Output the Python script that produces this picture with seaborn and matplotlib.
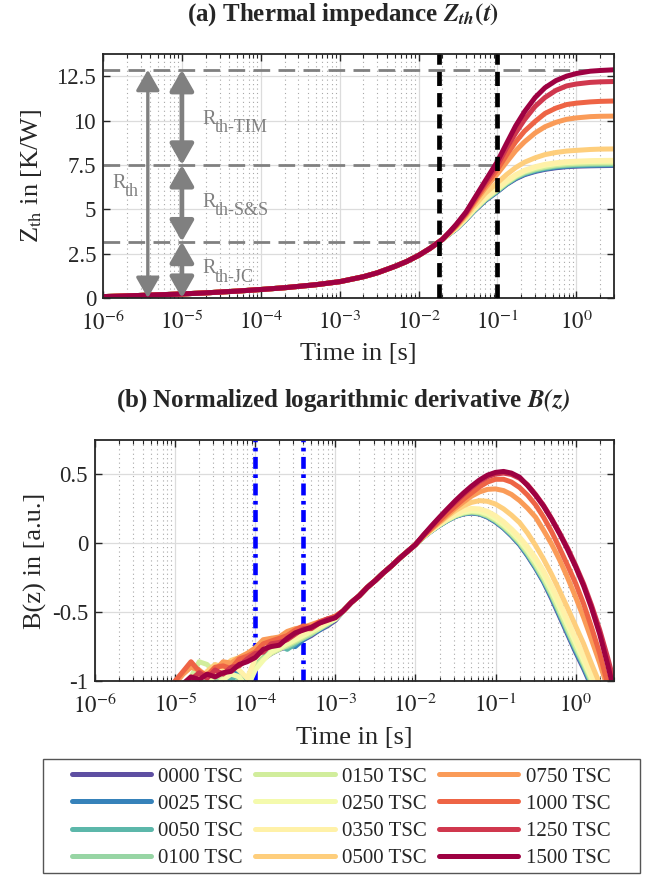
import matplotlib
matplotlib.use("Agg")
import matplotlib.pyplot as plt
import matplotlib.ticker as mticker
from matplotlib.lines import Line2D
from matplotlib.patches import Rectangle
import seaborn as sns
import pandas as pd
import numpy as np

nan = np.nan

# ---- series names / colours ----
labels = ["0000 TSC", "0025 TSC", "0050 TSC", "0100 TSC", "0150 TSC", "0250 TSC",
          "0350 TSC", "0500 TSC", "0750 TSC", "1000 TSC", "1250 TSC", "1500 TSC"]

# ---- (a) Zth(t): shared early part, then one list per series ----
zth_t_early = [1e-6, 2e-6, 5e-6, 1e-5, 2e-5, 5e-5, 1e-4, 2e-4, 5e-4, 1e-3,
               2e-3, 3e-3, 5e-3, 7e-3, 1e-2, 1.4e-2, 2e-2]
zth_early = [0.08, 0.12, 0.18, 0.23, 0.29, 0.39, 0.48, 0.58, 0.75, 0.92,
             1.2, 1.42, 1.78, 2.05, 2.4, 2.8, 3.3]
zth_t_late = [0.025, 0.03, 0.04, 0.05, 0.07, 0.1, 0.13, 0.17, 0.22, 0.3,
              0.4, 0.55, 0.75, 1.0, 1.5, 2.0, 3.0]
zth_0000 = [3.63, 3.89, 4.43, 4.88, 5.49, 6.0, 6.4, 6.72, 6.95, 7.13, 7.25, 7.34, 7.4, 7.43, 7.45, 7.46, 7.47]
zth_0025 = [3.64, 3.9, 4.44, 4.9, 5.51, 6.02, 6.42, 6.75, 6.98, 7.16, 7.28, 7.37, 7.43, 7.46, 7.48, 7.49, 7.5]
zth_0050 = [3.64, 3.91, 4.45, 4.91, 5.53, 6.04, 6.44, 6.78, 7.01, 7.19, 7.31, 7.41, 7.46, 7.49, 7.51, 7.52, 7.53]
zth_0100 = [3.65, 3.92, 4.46, 4.93, 5.55, 6.07, 6.47, 6.81, 7.05, 7.23, 7.35, 7.45, 7.5, 7.53, 7.56, 7.57, 7.58]
zth_0150 = [3.65, 3.93, 4.48, 4.95, 5.58, 6.1, 6.5, 6.85, 7.1, 7.28, 7.4, 7.5, 7.56, 7.59, 7.61, 7.62, 7.63]
zth_0250 = [3.66, 3.94, 4.5, 4.98, 5.62, 6.15, 6.55, 6.9, 7.15, 7.35, 7.48, 7.57, 7.63, 7.66, 7.69, 7.7, 7.71]
zth_0350 = [3.66, 3.95, 4.52, 5.0, 5.65, 6.2, 6.6, 6.95, 7.2, 7.4, 7.53, 7.62, 7.68, 7.71, 7.74, 7.75, 7.76]
zth_0500 = [3.68, 4.0, 4.6, 5.15, 5.9, 6.5, 6.95, 7.35, 7.65, 7.9, 8.08, 8.2, 8.28, 8.32, 8.37, 8.39, 8.4]
zth_0750 = [3.7, 4.05, 4.7, 5.3, 6.2, 7.0, 7.65, 8.3, 8.8, 9.3, 9.65, 9.9, 10.07, 10.15, 10.22, 10.24, 10.25]
zth_1000 = [3.72, 4.08, 4.75, 5.4, 6.35, 7.25, 8.05, 8.8, 9.4, 9.95, 10.4, 10.7, 10.9, 10.98, 11.05, 11.08, 11.1]
zth_1250 = [3.74, 4.12, 4.8, 5.48, 6.5, 7.5, 8.45, 9.3, 10.05, 10.8, 11.3, 11.7, 11.95, 12.06, 12.15, 12.18, 12.2]
zth_1500 = [3.75, 4.15, 4.85, 5.55, 6.6, 7.7, 8.7, 9.7, 10.5, 11.3, 11.85, 12.25, 12.5, 12.65, 12.78, 12.82, 12.86]
zth_late = [zth_0000, zth_0025, zth_0050, zth_0100, zth_0150, zth_0250,
            zth_0350, zth_0500, zth_0750, zth_1000, zth_1250, zth_1500]

# ---- (b) B(z): noisy start per series, shared middle, tail per series ----
b_t_noise = [1.0e-5, 1.26e-5, 1.58e-5, 2.0e-5, 2.51e-5, 3.16e-5, 3.98e-5, 5.01e-5, 6.31e-5, 7.94e-5,
             1.0e-4, 1.26e-4, 1.58e-4, 2.0e-4, 2.51e-4, 3.16e-4, 3.98e-4, 5.01e-4, 6.31e-4, 7.94e-4, 1.0e-3]
bn_0000 = [nan, nan, nan, -1.03, -1.0, -0.98, -1.0, -0.97, -0.96, -1.02, -0.9, -0.84, -0.8, -0.77, -0.75, -0.73, -0.7, -0.67, -0.63, -0.6, -0.56]
bn_0025 = [nan, nan, -1.04, -1.01, -0.99, -0.95, -0.98, -0.96, -0.93, -1.0, -0.88, -0.83, -0.79, -0.76, -0.74, -0.75, -0.7, -0.66, -0.63, -0.59, -0.55]
bn_0050 = [nan, nan, -1.05, -1.0, -0.98, -1.01, -0.97, -0.99, -0.95, -1.03, -0.89, -0.82, -0.78, -0.74, -0.77, -0.73, -0.68, -0.65, -0.61, -0.58, -0.55]
bn_0100 = [nan, -1.06, -1.02, -0.99, -1.01, -0.97, -1.0, -1.04, -0.99, -1.04, -0.9, -0.83, -0.79, -0.76, -0.75, -0.72, -0.69, -0.66, -0.62, -0.59, -0.55]
bn_0150 = [nan, -1.04, -0.97, -0.86, -0.88, -0.94, -0.99, -1.04, -1.06, -1.03, -0.9, -0.84, -0.8, -0.77, -0.74, -0.71, -0.68, -0.65, -0.62, -0.58, -0.55]
bn_0250 = [nan, -1.05, -1.02, -0.98, -0.96, -1.03, -0.99, -0.95, -0.97, -1.05, -0.92, -0.85, -0.79, -0.76, -0.73, -0.7, -0.67, -0.64, -0.61, -0.58, -0.55]
bn_0350 = [nan, nan, -1.04, -0.99, -0.95, -0.97, -0.92, -0.89, -0.92, -0.98, -0.84, -0.78, -0.75, -0.72, -0.69, -0.68, -0.65, -0.62, -0.6, -0.57, -0.54]
bn_0500 = [nan, -1.03, -0.97, -0.99, -0.93, -0.88, -0.9, -0.85, -0.83, -0.8, -0.77, -0.72, -0.69, -0.7, -0.66, -0.64, -0.63, -0.6, -0.58, -0.56, -0.53]
bn_0750 = [-1.02, -0.95, -0.9, -0.92, -0.97, -0.92, -0.86, -0.87, -0.83, -0.8, -0.76, -0.7, -0.69, -0.68, -0.64, -0.62, -0.61, -0.59, -0.57, -0.55, -0.53]
bn_1000 = [-1.0, -0.93, -0.86, -0.93, -0.96, -0.9, -0.89, -0.91, -0.84, -0.82, -0.79, -0.73, -0.71, -0.69, -0.67, -0.63, -0.6, -0.61, -0.57, -0.55, -0.53]
bn_1250 = [nan, nan, -0.99, -0.94, -0.98, -0.92, -0.95, -0.9, -0.89, -0.84, -0.8, -0.79, -0.73, -0.72, -0.7, -0.66, -0.62, -0.62, -0.58, -0.55, -0.54]
bn_1500 = [nan, -1.02, -0.97, -0.99, -0.95, -0.97, -0.94, -0.93, -0.88, -0.86, -0.83, -0.77, -0.75, -0.74, -0.69, -0.65, -0.63, -0.61, -0.58, -0.56, -0.54]
b_noise = [bn_0000, bn_0025, bn_0050, bn_0100, bn_0150, bn_0250,
           bn_0350, bn_0500, bn_0750, bn_1000, bn_1250, bn_1500]

b_t_mid = [1.26e-3, 1.58e-3, 2.0e-3, 2.51e-3, 3.16e-3, 3.98e-3, 5.01e-3, 6.31e-3, 7.94e-3]
b_mid = [-0.49, -0.43, -0.38, -0.32, -0.27, -0.215, -0.165, -0.11, -0.06]

b_t_tail = [1.0e-2, 1.26e-2, 1.58e-2, 2.0e-2, 2.51e-2, 3.16e-2, 3.98e-2, 5.01e-2, 6.31e-2, 7.94e-2,
            0.1, 0.126, 0.158, 0.2, 0.251, 0.316, 0.398, 0.501, 0.631, 0.794,
            1.0, 1.26, 1.58, 2.0, 2.51, 3.16]
bt_0000 = [-0.01, 0.045, 0.09, 0.13, 0.165, 0.195, 0.213, 0.22, 0.213, 0.19, 0.155, 0.11, 0.055, -0.01, -0.09, -0.18, -0.28, -0.4, -0.53, -0.66, -0.79, -0.91, -1.04, -1.17, -1.3, -1.43]
bt_0025 = [-0.01, 0.045, 0.09, 0.131, 0.166, 0.196, 0.215, 0.222, 0.215, 0.193, 0.158, 0.113, 0.058, -0.006, -0.085, -0.175, -0.275, -0.39, -0.52, -0.65, -0.78, -0.9, -1.03, -1.16, -1.29, -1.42]
bt_0050 = [-0.01, 0.046, 0.091, 0.132, 0.167, 0.197, 0.216, 0.224, 0.217, 0.195, 0.161, 0.116, 0.062, -0.002, -0.08, -0.17, -0.268, -0.383, -0.512, -0.642, -0.77, -0.89, -1.02, -1.15, -1.28, -1.41]
bt_0100 = [-0.01, 0.046, 0.091, 0.133, 0.168, 0.199, 0.218, 0.227, 0.22, 0.199, 0.165, 0.12, 0.067, 0.004, -0.073, -0.162, -0.26, -0.374, -0.502, -0.632, -0.76, -0.88, -1.01, -1.14, -1.27, -1.4]
bt_0150 = [-0.01, 0.047, 0.092, 0.134, 0.17, 0.201, 0.221, 0.23, 0.224, 0.203, 0.17, 0.126, 0.073, 0.01, -0.066, -0.154, -0.252, -0.365, -0.492, -0.62, -0.748, -0.87, -0.998, -1.13, -1.26, -1.39]
bt_0250 = [-0.01, 0.048, 0.093, 0.136, 0.173, 0.205, 0.227, 0.237, 0.232, 0.213, 0.18, 0.137, 0.085, 0.023, -0.05, -0.135, -0.232, -0.343, -0.467, -0.595, -0.723, -0.852, -0.98, -1.11, -1.24, -1.37]
bt_0350 = [-0.01, 0.05, 0.095, 0.14, 0.18, 0.213, 0.24, 0.253, 0.25, 0.232, 0.2, 0.157, 0.105, 0.045, -0.025, -0.105, -0.2, -0.31, -0.43, -0.56, -0.69, -0.82, -0.95, -1.08, -1.21, -1.34]
bt_0500 = [-0.01, 0.05, 0.1, 0.15, 0.195, 0.238, 0.272, 0.297, 0.31, 0.305, 0.285, 0.25, 0.205, 0.15, 0.075, -0.015, -0.115, -0.225, -0.345, -0.47, -0.6, -0.73, -0.875, -1.02, -1.17, -1.32]
bt_0750 = [-0.01, 0.05, 0.103, 0.155, 0.205, 0.255, 0.3, 0.342, 0.373, 0.392, 0.395, 0.383, 0.355, 0.31, 0.255, 0.19, 0.095, -0.005, -0.12, -0.25, -0.39, -0.54, -0.7, -0.87, -1.05, -1.25]
bt_1000 = [-0.01, 0.055, 0.11, 0.165, 0.22, 0.27, 0.32, 0.365, 0.41, 0.445, 0.465, 0.465, 0.445, 0.405, 0.35, 0.28, 0.19, 0.085, -0.035, -0.16, -0.29, -0.44, -0.61, -0.8, -1.02, -1.25]
bt_1250 = [-0.01, 0.058, 0.12, 0.185, 0.245, 0.3, 0.355, 0.405, 0.45, 0.483, 0.503, 0.51, 0.5, 0.472, 0.425, 0.355, 0.275, 0.18, 0.075, -0.035, -0.16, -0.295, -0.45, -0.63, -0.83, -1.05]
bt_1500 = [-0.01, 0.06, 0.125, 0.19, 0.25, 0.31, 0.365, 0.415, 0.46, 0.495, 0.515, 0.522, 0.51, 0.48, 0.42, 0.35, 0.27, 0.175, 0.07, -0.045, -0.17, -0.31, -0.47, -0.66, -0.88, -1.12]
b_tail = [bt_0000, bt_0025, bt_0050, bt_0100, bt_0150, bt_0250,
          bt_0350, bt_0500, bt_0750, bt_1000, bt_1250, bt_1500]

# ---- annotation values ----
rth_levels = [3.18, 7.5, 12.86]      # JC / S&S / TIM boundaries
t_marks = [0.0183, 0.1]              # black dashed lines (a)
t_blue = [1e-4, 4e-4]                # blue dash-dot lines (b)
x_rth = 3.7e-6
x_parts = 1e-5
rth_text = [("th", 1.3e-6, 6.2), ("th-TIM", 1.8e-5, 9.83),
            ("th-S&S", 1.8e-5, 5.13), ("th-JC", 1.8e-5, 1.4)]

xticks = [1e-6, 1e-5, 1e-4, 1e-3, 1e-2, 1e-1, 1e0]
xticklabels = [r"$10^{-6}$", r"$10^{-5}$", r"$10^{-4}$", r"$10^{-3}$", r"$10^{-2}$", r"$10^{-1}$", r"$10^{0}$"]
yticks_a = [0, 2.5, 5, 7.5, 10, 12.5]
yticklabels_a = ["0", "2.5", "5", "7.5", "10", "12.5"]
yticks_b = [-1, -0.5, 0, 0.5]
yticklabels_b = ["-1", "-0.5", "0", "0.5"]

# ---- long tables ----
rows_a = []
rows_b = []
for lab, late, noise, tail in zip(labels, zth_late, b_noise, b_tail):
    for t, z in zip(zth_t_early + zth_t_late, zth_early + late):
        rows_a.append((lab, t, z))
    for t, b in zip(b_t_noise + b_t_mid + b_t_tail, noise + b_mid + tail):
        rows_b.append((lab, t, b))
df_a = pd.DataFrame(rows_a, columns=["sample", "t", "Z"]).dropna()
df_b = pd.DataFrame(rows_b, columns=["sample", "t", "B"]).dropna()

sns.set_style("ticks")
plt.rcParams["font.family"] = ["Liberation Serif", "DejaVu Serif"]
plt.rcParams["mathtext.fontset"] = "stix"
plt.rcParams["axes.unicode_minus"] = False

cmap = plt.get_cmap("Spectral_r")
colors = sns.color_palette([cmap(v) for v in np.linspace(0, 1, len(labels))])
gray = "#808080"
LW = 3.6
TICK_FS = 16.5
LABEL_FS = 19

fig = plt.figure(figsize=(6.51, 8.75), dpi=100)
ax1 = fig.add_axes([0.1582, 0.6594, 0.785, 0.2789])
ax2 = fig.add_axes([0.1459, 0.2217, 0.797, 0.2754])

for ax in (ax1, ax2):
    ax.set_xscale("log")
    ax.set_axisbelow(True)

sns.lineplot(data=df_a, x="t", y="Z", hue="sample", hue_order=labels, palette=colors,
             lw=LW, estimator=None, legend=False, ax=ax1)
sns.lineplot(data=df_b, x="t", y="B", hue="sample", hue_order=labels, palette=colors,
             lw=LW, estimator=None, legend=False, ax=ax2)

# (a) guide lines
ax1.hlines(rth_levels[0], 1e-6, t_marks[0], color=gray, lw=2, ls=(0, (6, 3)), zorder=1.5)
ax1.hlines(rth_levels[1], 1e-6, t_marks[1], color=gray, lw=2, ls=(0, (6, 3)), zorder=1.5)
ax1.axhline(rth_levels[2], color=gray, lw=2, ls=(0, (6, 3)), zorder=1.5)
for tm in t_marks:
    ax1.axvline(tm, color="black", lw=3.4, ls=(0, (3.0, 1.5)), zorder=3)

arrow_kw = dict(arrowstyle="<|-|>,head_length=0.42,head_width=0.24", color=gray,
                shrinkA=0, shrinkB=0, mutation_scale=30)
ax1.annotate("", xy=(x_rth, rth_levels[2]), xytext=(x_rth, 0),
             arrowprops=dict(lw=2.4, **arrow_kw))
for lo, hi in zip([0] + rth_levels[:-1], rth_levels):
    ax1.annotate("", xy=(x_parts, hi), xytext=(x_parts, lo),
                 arrowprops=dict(lw=3.4, **arrow_kw))

for sub, tx, ty in rth_text:
    ax1.text(tx, ty, "R", color=gray, fontsize=14.5, va="baseline")
    ax1.annotate(sub, xy=(tx, ty), xytext=(9.5, -6), textcoords="offset points",
                 color=gray, fontsize=13, va="baseline")

# (b) blue markers
for tb in t_blue:
    ax2.axvline(tb, color="#0000ff", lw=3.3, ls=(0, (2.6, 1.2, 0.8, 1.2)), zorder=1.8)

# axes styling
ax1.set_ylim(0, 13.75)
ax2.set_ylim(-1, 0.75)
ax1.set_yticks(yticks_a, yticklabels_a)
ax2.set_yticks(yticks_b, yticklabels_b)
for ax in (ax1, ax2):
    ax.set_xlim(1e-6, 3)
    ax.set_xticks(xticks, xticklabels)
    ax.xaxis.set_minor_locator(mticker.LogLocator(base=10, subs=np.arange(2, 10), numticks=100))
    ax.xaxis.set_minor_formatter(mticker.NullFormatter())
    ax.grid(which="major", color="#dcdcdc", lw=0.9)
    ax.grid(which="minor", axis="x", color="#a8a8a8", lw=0.8, ls=(0, (1, 3)))
    ax.tick_params(which="both", direction="in", top=True, right=True, color="#262626",
                   labelsize=TICK_FS, labelcolor="#262626")
    ax.tick_params(which="major", length=5, width=1.0)
    ax.tick_params(which="minor", length=3, width=0.8)
    ax.tick_params(axis="y", which="major", pad=5)
    ax.tick_params(axis="x", which="major", pad=9)
    for sp in ax.spines.values():
        sp.set_color("#262626")
        sp.set_linewidth(1.3)
    ax.set_xlabel("Time in [s]", fontsize=LABEL_FS, color="#262626")
    ax.xaxis.label.set_va("center")

ax1.set_ylabel(r"Z$_{\mathrm{th}}$ in [K/W]", fontsize=LABEL_FS, color="#262626")
ax2.set_ylabel("B(z) in [a.u.]", fontsize=LABEL_FS, color="#262626")
for ax in (ax1, ax2):
    ax.yaxis.label.set_va("center")
ax1.xaxis.set_label_coords(0.5, -0.2295)
ax2.xaxis.set_label_coords(0.5, -0.2365)
ax1.yaxis.set_label_coords(-0.139, 0.5)
ax2.yaxis.set_label_coords(-0.114, 0.5)

fig.text(0.527, 0.983, r"(a) Thermal impedance $\mathbfit{Z_{th}}\mathbf{(}\mathbfit{t}\mathbf{)}$",
         ha="center", va="center", fontsize=18, weight="bold")
fig.text(0.527, 0.542, r"(b) Normalized logarithmic derivative $\mathbfit{B(z)}$",
         ha="center", va="center", fontsize=18, weight="bold")

# legend
handles = [Line2D([], [], color=c, lw=LW) for c in colors]
fig.legend(handles, labels, ncol=3, loc="center", bbox_to_anchor=(0.524, 0.0657),
           frameon=False, fontsize=15, handlelength=3.8, handletextpad=0.35,
           columnspacing=0.6, labelspacing=0.36)
fig.add_artist(Rectangle((43 / 651, 2 / 875), 597 / 651, 114 / 875, transform=fig.transFigure,
                         fill=False, edgecolor="#555555", lw=1.0))

fig.savefig("out.png", dpi=100)
